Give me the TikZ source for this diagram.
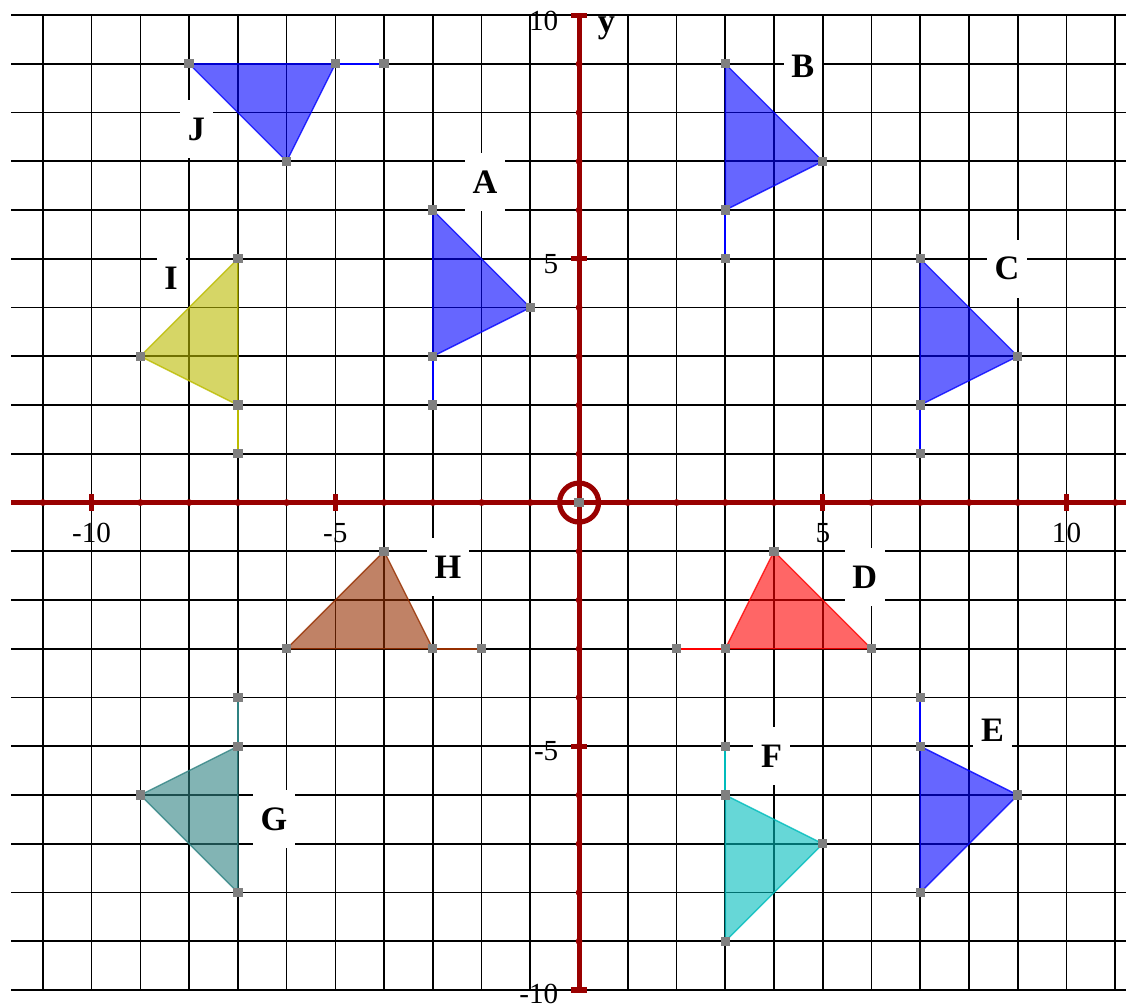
\documentclass[tikz,border=0pt]{standalone}
\usepackage{fontspec}
\setmainfont{Liberation Serif}
\usepackage{xcolor}
\usepackage{tikz}
\definecolor{axisred}{HTML}{990000}
\definecolor{triblue}{HTML}{0000FF}
\definecolor{triyellow}{RGB}{187,187,0}
\definecolor{triteal}{RGB}{47,130,130}
\definecolor{tricyan}{RGB}{0,188,188}
\definecolor{trired}{RGB}{255,0,0}
\definecolor{tribrown}{RGB}{150,47,0}

\begin{document}
\begin{tikzpicture}[
        gridline/.style={black, line width=1pt},
        axis/.style={axisred, line width=3pt},
        vtx/.style={rectangle, fill=gray, inner sep=0pt, minimum size=0.19cm},
        tri/.style={fill opacity=0.6, draw opacity=0.8, line width=0.8pt},
        tail/.style={line width=1.2pt},
        lbl/.style={fill=white, inner xsep=0.16cm, inner ysep=0pt, minimum height=1.19cm, font=\fontsize{20}{20}\selectfont\bfseries},
        num/.style={inner sep=0pt, font=\fontsize{17}{17}\selectfont}
    ]
        \useasboundingbox (-11.88,-10.33) rectangle (11.22,10.31);

        % Grid
        \foreach \y in {-10,...,10} \draw[gridline] (-11.65,\y) -- (11.22,\y);
        \foreach \x in {-11,...,11} \draw[gridline] (\x,-10) -- (\x,10);

        % Axes
        \draw[axis] (-11.65,0) -- (11.22,0);
        \draw[axis] (0,-10) -- (0,10);
        \foreach \x in {-11,...,11} \fill[axisred] (\x,0) circle (0.07);
        \foreach \y in {-9,...,9} \fill[axisred] (0,\y) circle (0.07);
        \foreach \x in {-10,-5,5,10} \draw[axis] (\x,-0.17) -- (\x,0.17);
        \foreach \y in {-10,-5,5,10} \draw[axis] (-0.17,\y) -- (0.17,\y);
        \draw[axis] (0,0) circle (0.4);
        \node[vtx] (O) at (0,0) {};

        % Axis numbers
        \node[num, anchor=base] (xm10) at (-10,-0.82) {-10};
        \node[num, anchor=base] (xm5) at (-5,-0.82) {-5};
        \node[num, anchor=base] (xp5) at (5,-0.82) {5};
        \node[num, anchor=base] (xp10) at (10,-0.82) {10};
        \node[num, anchor=base east] (yp10) at (-0.42,9.69) {10};
        \node[num, anchor=base east] (yp5) at (-0.42,4.7) {5};
        \node[num, anchor=base east] (ym5) at (-0.42,-5.3) {-5};
        \node[num, anchor=base east] (ym10) at (-0.42,-10.28) {-10};
        \node[num, anchor=base west, font=\fontsize{20}{20}\selectfont\bfseries] (ylab) at (0.38,9.65) {y};

        % Triangle J
        \coordinate (J1) at (-8,9); \coordinate (J2) at (-5,9); \coordinate (J3) at (-6,7); \coordinate (J4) at (-4,9);
        \filldraw[tri, triblue] (J1) -- (J2) -- (J3) -- cycle;
        \draw[tail, triblue] (J2) -- (J4);

        % Triangle A
        \coordinate (A1) at (-3,6); \coordinate (A2) at (-1,4); \coordinate (A3) at (-3,3); \coordinate (A4) at (-3,2);
        \filldraw[tri, triblue] (A1) -- (A2) -- (A3) -- cycle;
        \draw[tail, triblue] (A3) -- (A4);

        % Triangle B
        \coordinate (B1) at (3,9); \coordinate (B2) at (5,7); \coordinate (B3) at (3,6); \coordinate (B4) at (3,5);
        \filldraw[tri, triblue] (B1) -- (B2) -- (B3) -- cycle;
        \draw[tail, triblue] (B3) -- (B4);

        % Triangle C
        \coordinate (C1) at (7,5); \coordinate (C2) at (9,3); \coordinate (C3) at (7,2); \coordinate (C4) at (7,1);
        \filldraw[tri, triblue] (C1) -- (C2) -- (C3) -- cycle;
        \draw[tail, triblue] (C3) -- (C4);

        % Triangle I
        \coordinate (I1) at (-7,5); \coordinate (I2) at (-9,3); \coordinate (I3) at (-7,2); \coordinate (I4) at (-7,1);
        \filldraw[tri, triyellow] (I1) -- (I2) -- (I3) -- cycle;
        \draw[tail, triyellow] (I3) -- (I4);

        % Triangle H
        \coordinate (H1) at (-6,-3); \coordinate (H2) at (-4,-1); \coordinate (H3) at (-3,-3); \coordinate (H4) at (-2,-3);
        \filldraw[tri, tribrown] (H1) -- (H2) -- (H3) -- cycle;
        \draw[tail, tribrown] (H3) -- (H4);

        % Triangle D
        \coordinate (D1) at (3,-3); \coordinate (D2) at (4,-1); \coordinate (D3) at (6,-3); \coordinate (D4) at (2,-3);
        \filldraw[tri, trired] (D1) -- (D2) -- (D3) -- cycle;
        \draw[tail, trired] (D1) -- (D4);

        % Triangle E
        \coordinate (E1) at (7,-5); \coordinate (E2) at (9,-6); \coordinate (E3) at (7,-8); \coordinate (E4) at (7,-4);
        \filldraw[tri, triblue] (E1) -- (E2) -- (E3) -- cycle;
        \draw[tail, triblue] (E1) -- (E4);

        % Triangle F
        \coordinate (F1) at (3,-6); \coordinate (F2) at (5,-7); \coordinate (F3) at (3,-9); \coordinate (F4) at (3,-5);
        \filldraw[tri, tricyan] (F1) -- (F2) -- (F3) -- cycle;
        \draw[tail, tricyan] (F1) -- (F4);

        % Triangle G
        \coordinate (G1) at (-7,-5); \coordinate (G2) at (-9,-6); \coordinate (G3) at (-7,-8); \coordinate (G4) at (-7,-4);
        \filldraw[tri, triteal] (G1) -- (G2) -- (G3) -- cycle;
        \draw[tail, triteal] (G1) -- (G4);

        % Vertex marks
        \foreach \t in {A,B,C,D,E,F,G,H,I,J}
            \foreach \k in {1,2,3,4}
                \node[vtx] (v\t\k) at (\t\k) {};

        % Labels
        \node[lbl] (lblA) at (-1.93,6.57) {A};
        \node[lbl] (lblB) at (4.59,8.95) {B};
        \node[lbl] (lblC) at (8.78,4.80) {C};
        \node[lbl] (lblD) at (5.86,-1.53) {D};
        \node[lbl] (lblE) at (8.48,-4.68) {E};
        \node[lbl] (lblF) at (3.95,-5.20) {F};
        \node[lbl] (lblG) at (-6.26,-6.49) {G};
        \node[lbl] (lblH) at (-2.69,-1.33) {H};
        \node[lbl] (lblI) at (-8.37,4.60) {I};
        \node[lbl] (lblJ) at (-7.85,7.66) {J};
    \end{tikzpicture}
\end{document}
